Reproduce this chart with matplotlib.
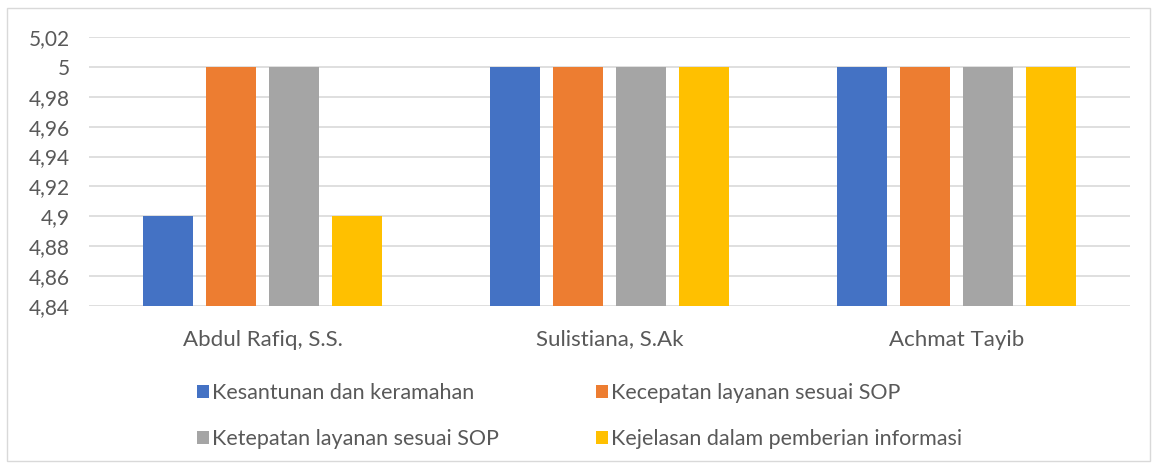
import numpy as np
import matplotlib.pyplot as plt
from matplotlib.ticker import FuncFormatter
from matplotlib.patches import Rectangle

#%%

names = ['Abdul Rafiq, S.S.', 'Sulistiana, S.Ak', 'Achmat Tayib']
series = ['Kesantunan dan keramahan', 'Kecepatan layanan sesuai SOP',
          'Ketepatan layanan sesuai SOP', 'Kejelasan dalam pemberian informasi']
kesantunan = [4.9, 5.0, 5.0]
kecepatan = [5.0, 5.0, 5.0]
ketepatan = [5.0, 5.0, 5.0]
kejelasan = [4.9, 5.0, 5.0]
colors = ['#4472C4', '#ED7D31', '#A5A5A5', '#FFC000']

#%%

plt.rcParams['font.family'] = ['Lato', 'DejaVu Sans']

fig = plt.figure(figsize=(11.57, 4.65), dpi=100)
ax = fig.add_axes([0.0769, 0.342, 0.90, 0.5784])

fig.patches.append(Rectangle((0.006, 0.008), 0.988, 0.975, transform=fig.transFigure,
                             fill=False, edgecolor='#d9d9d9', linewidth=1))

x = np.arange(len(names))
step = 0.1816
width = 0.144
vals = [kesantunan, kecepatan, ketepatan, kejelasan]
bars = []
for i, v in enumerate(vals):
    b = ax.bar(x + (i - 1.5) * step, v, width=width, color=colors[i],
               label=series[i], zorder=3)
    bars.append(b)

ax.set_xlim(-0.5, 2.5)
ax.set_ylim(4.84, 5.02)
ax.set_yticks(np.arange(4.84, 5.021, 0.02))
ax.yaxis.set_major_formatter(FuncFormatter(lambda v, p: ('%g' % round(v, 2)).replace('.', ',')))
ax.set_xticks(x)
ax.set_xticklabels(names)
ax.tick_params(axis='y', length=0, labelsize=15, colors='#595959', pad=14)
ax.tick_params(axis='x', length=0, labelsize=16, colors='#595959', pad=17)
ax.grid(axis='y', color='#d9d9d9', linewidth=1.2, zorder=0)
for s in ax.spines.values():
    s.set_visible(False)

# row-wise order like the original
order = [0, 2, 1, 3]
leg = ax.legend([bars[i] for i in order], [series[i] for i in order],
                loc='upper left', bbox_to_anchor=(0.085, -0.215), ncol=2, frameon=False,
                fontsize=15.5, handlelength=0.55, handleheight=0.55, handletextpad=0.15,
                columnspacing=4.5, labelspacing=1.2, borderpad=0.4)
for t in leg.get_texts():
    t.set_color('#595959')

plt.savefig('out.png', dpi=100)
